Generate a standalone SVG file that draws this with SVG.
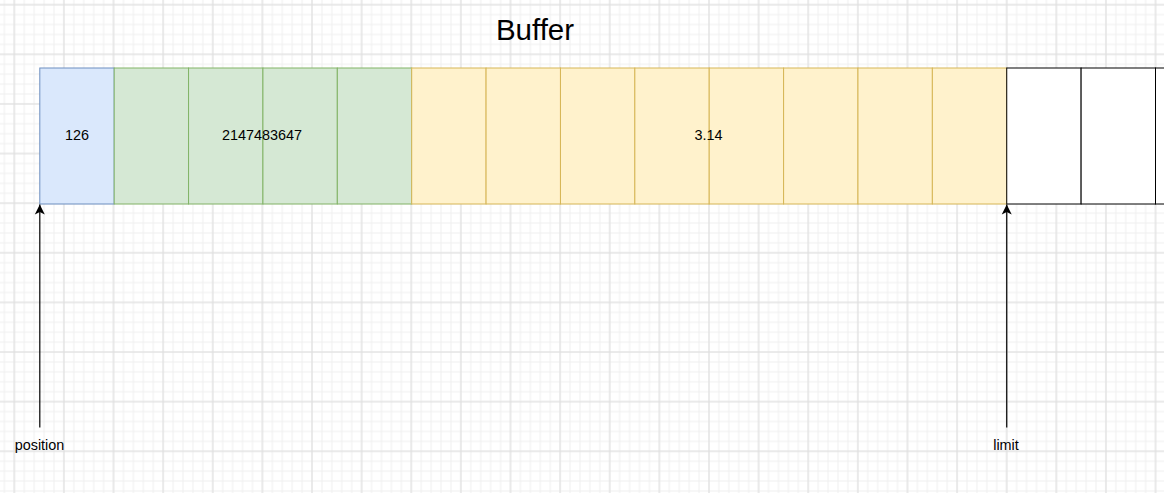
<svg xmlns="http://www.w3.org/2000/svg" width="1164" height="493" viewBox="0 0 1164 493">
  <style>
    .lbl { font-family: "Liberation Sans", Arial, sans-serif; font-size: 14.4px; fill: #000; text-anchor: middle; }
    .title { font-family: "Liberation Sans", Arial, sans-serif; font-size: 29.5px; fill: #000; text-anchor: middle; }
    .blue { fill: #dae8fc; stroke: #6c8ebf; stroke-width: 1; }
    .green { fill: #d5e8d4; stroke: #82b366; stroke-width: 1; }
    .yellow { fill: #fff2cc; stroke: #d6b656; stroke-width: 1; }
    .empty { fill: #ffffff; stroke: #000000; stroke-width: 1; }
    .conn { stroke: #000; stroke-width: 1.2; fill: none; }
  </style>
  <defs>
    <pattern id="minor" patternUnits="userSpaceOnUse" x="-0.582" y="-0.262" width="9.924" height="9.924">
      <path d="M 4.962 0 V 9.924 M 0 4.962 H 9.924" stroke="#f0f0f0" stroke-width="1" fill="none"/>
    </pattern>
    <pattern id="major" patternUnits="userSpaceOnUse" x="-10.51" y="-20.11" width="49.62" height="49.62">
      <path d="M 24.81 0 V 49.62 M 0 24.81 H 49.62" stroke="#dedede" stroke-width="1" fill="none"/>
    </pattern>
    <marker id="arrow" markerUnits="userSpaceOnUse" viewBox="-11 -6 12 12" markerWidth="12" markerHeight="12" refX="0" refY="0" orient="auto">
      <path d="M 0 0 L -10 -5 L -7.5 0 L -10 5 Z" fill="#000"/>
    </marker>
  </defs>

  <rect x="0" y="0" width="1164" height="493" fill="#ffffff"/>
  <rect x="0" y="0" width="1164" height="493" fill="url(#minor)"/>
  <rect x="0" y="0" width="1164" height="493" fill="url(#major)"/>

  <g id="title">
    <text class="title" x="535" y="40">Buffer</text>
  </g>

  <g id="byte-126">
    <rect class="blue" x="39.8" y="68" width="74.38" height="136"/>
    <text class="lbl" x="77" y="140">126</text>
  </g>

  <g id="int-2147483647">
    <rect class="green" x="114.18" y="68" width="74.38" height="136"/>
    <rect class="green" x="188.56" y="68" width="74.38" height="136"/>
    <rect class="green" x="262.94" y="68" width="74.38" height="136"/>
    <rect class="green" x="337.32" y="68" width="74.38" height="136"/>
    <text class="lbl" x="262" y="140">2147483647</text>
  </g>

  <g id="double-3.14">
    <rect class="yellow" x="411.70" y="68" width="74.38" height="136"/>
    <rect class="yellow" x="486.08" y="68" width="74.38" height="136"/>
    <rect class="yellow" x="560.46" y="68" width="74.38" height="136"/>
    <rect class="yellow" x="634.84" y="68" width="74.38" height="136"/>
    <rect class="yellow" x="709.22" y="68" width="74.38" height="136"/>
    <rect class="yellow" x="783.60" y="68" width="74.38" height="136"/>
    <rect class="yellow" x="857.98" y="68" width="74.38" height="136"/>
    <rect class="yellow" x="932.36" y="68" width="74.38" height="136"/>
    <text class="lbl" x="708.5" y="140">3.14</text>
  </g>

  <g id="empty-cells">
    <rect class="empty" x="1006.74" y="68" width="74.38" height="136"/>
    <rect class="empty" x="1081.12" y="68" width="74.38" height="136"/>
    <rect class="empty" x="1155.50" y="68" width="74.38" height="136"/>
  </g>

  <g id="connectors">
    <line class="conn" x1="39.8" y1="427.5" x2="39.8" y2="204.5" marker-end="url(#arrow)"/>
    <line class="conn" x1="1006.74" y1="427.5" x2="1006.74" y2="204.5" marker-end="url(#arrow)"/>
  </g>

  <g id="position-label">
    <text class="lbl" x="39.5" y="449.5">position</text>
  </g>

  <g id="limit-label">
    <text class="lbl" x="1006" y="449.5">limit</text>
  </g>
</svg>
